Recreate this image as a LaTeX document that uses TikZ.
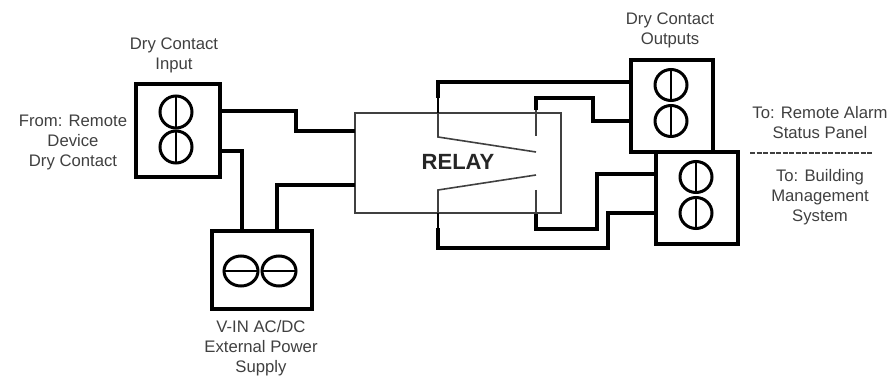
\documentclass[tikz,border=0pt]{standalone}
\usepackage{fontspec}
\setmainfont{Liberation Sans}
\usetikzlibrary{shapes.geometric}
\begin{document}
\begin{tikzpicture}[x=1pt,y=-1pt,
  termbox/.style={draw=black,line width=3.6pt,fill=white,inner sep=0pt,outer sep=0pt,minimum width=#1},
  relaybox/.style={draw=black!75,line width=1.4pt,inner sep=0pt,outer sep=0pt,minimum width=206pt,minimum height=100pt},
  wire/.style={draw=black,line width=4.6pt,line join=miter},
  thinwire/.style={draw=black!75,line width=1.6pt},
  screw/.style={draw=black,line width=3pt,ellipse,inner sep=0pt,outer sep=0pt,minimum width=#1},
  slot/.style={line width=2.8pt},
  lbl/.style={font=\fontsize{16.7}{20}\selectfont,text=black!75,align=center,inner sep=0pt},
]
\useasboundingbox (0,0) rectangle (891,382);
% terminal boxes
\node[termbox=84pt,minimum height=93pt] (input) at (178,130.5) {};
\node[termbox=100pt,minimum height=78pt] (power) at (262,270) {};
\node[termbox=82pt,minimum height=92pt] (outa) at (672,106) {};
\node[termbox=82pt,minimum height=92pt] (outb) at (697,198) {};
% relay
\node[relaybox] (relay) at (458,163) {};
\node[font=\bfseries\fontsize{22}{24}\selectfont,text=black!85,inner sep=0pt] (relaytext) at (458,162) {RELAY};
% pin coordinates
\coordinate (ia) at (220,111);
\coordinate (ib) at (220,151);
\coordinate (ra) at (355,131);
\coordinate (rb) at (355,185);
\coordinate (pa) at (242,231);
\coordinate (pb) at (277,231);
\coordinate (oa) at (631,82);
\coordinate (ob) at (631,121);
\coordinate (oc) at (656,174);
\coordinate (od) at (656,213);
\coordinate (bladeT) at (438,137);
\coordinate (bladeTe) at (536,152);
\coordinate (bladeB) at (438,190);
\coordinate (bladeBe) at (536,175);
\coordinate (contT) at (536,136);
\coordinate (contB) at (536,190);
\coordinate (dashA) at (750,153);
\coordinate (dashB) at (873,153);
% input wires
\draw[wire] (ia) -| (296,131) -- (ra);
\draw[wire] (ib) -| (pa);
\draw[wire] (pb) |- (rb);
% relay internals
\draw[thinwire] (438,95) -- (bladeT) -- (bladeTe);
\draw[thinwire] (438,232) -- (bladeB) -- (bladeBe);
\draw[thinwire] (contT) -- (536,108);
\draw[thinwire] (contB) -- (536,216);
% output wires
\draw[wire] (438,98) -- (438,82) -- (oa);
\draw[wire] (536,110) -- (536,98) -- (593,98) -- (593,121) -- (ob);
\draw[wire] (oc) -- (597,174) -- (597,229) -- (536,229) -- (536,214);
\draw[wire] (438,228) -- (438,248) -- (608,248) -- (608,213) -- (od);
\draw[line width=2.8pt] (438,98) -- (438,113);
\draw[line width=2.8pt] (438,213) -- (438,228);
% screws
\node[screw=32pt,minimum height=32pt] (s1) at (176,112) {};
\node[screw=32pt,minimum height=32pt] (s2) at (176,147) {};
\draw[slot] (s1.north) -- (s1.south);
\draw[slot] (s2.north) -- (s2.south);
\node[screw=34pt,minimum height=30pt] (s3) at (241,271) {};
\node[screw=34pt,minimum height=30pt] (s4) at (279,271) {};
\draw[slot] (s3.west) -- (s3.east);
\draw[slot] (s4.west) -- (s4.east);
\node[screw=32pt,minimum height=31pt] (s5) at (671,85) {};
\node[screw=32pt,minimum height=31pt] (s6) at (671,121) {};
\draw[slot] (s5.north) -- (s5.south);
\draw[slot] (s6.north) -- (s6.south);
\node[screw=32pt,minimum height=31pt] (s7) at (696,177) {};
\node[screw=32pt,minimum height=31pt] (s8) at (696,213) {};
\draw[slot] (s7.north) -- (s7.south);
\draw[slot] (s8.north) -- (s8.south);
% labels
\node[lbl] (l1) at (174,55) {Dry Contact\\Input};
\node[lbl] (l2) at (73,142) {From: Remote\\Device\\Dry Contact};
\node[lbl] (l3) at (261,348) {V-IN AC/DC\\External Power\\Supply};
\node[lbl] (l4) at (670,30) {Dry Contact\\Outputs};
\node[lbl] (l5) at (820,123) {To: Remote Alarm\\Status Panel};
\node[lbl] (l6) at (820,197) {To: Building\\Management\\System};
\draw[black!75,line width=1.4pt,dash pattern=on 5pt off 1.5pt] (dashA) -- (dashB);
\end{tikzpicture}
\end{document}
